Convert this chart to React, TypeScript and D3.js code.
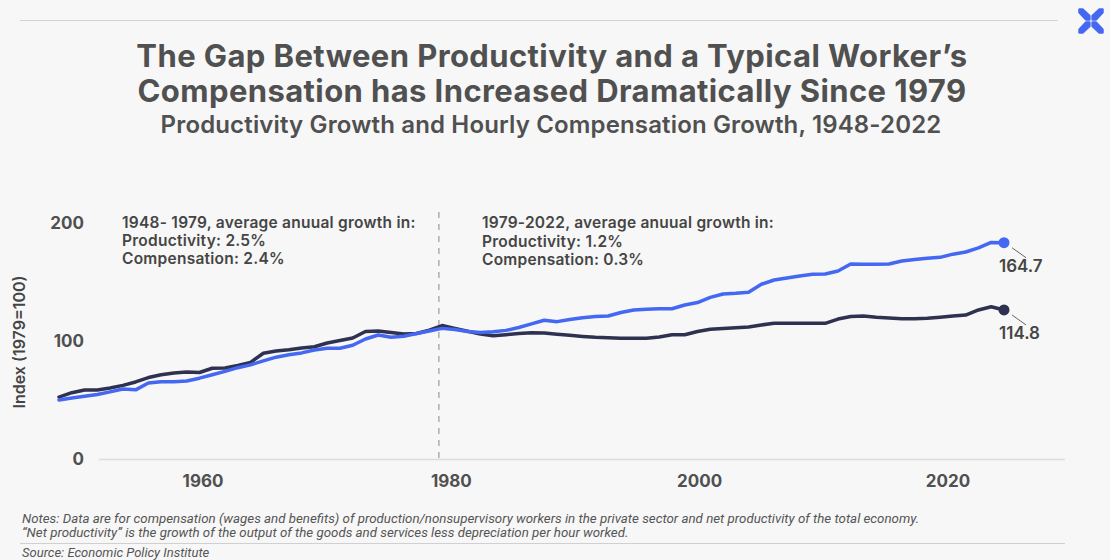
import React from "react";
import * as d3 from "d3";

const YEARS: number[] = d3.range(1948, 2023);

const PRODUCTIVITY: number[] = [
  50.0, 51.7, 53.1, 54.7, 56.9, 59.3, 58.6, 64.4, 65.5, 65.5,
  66.1, 68.5, 71.4, 74.3, 77.4, 79.8, 83.1, 86.3, 88.4, 89.9,
  92.4, 93.8, 93.8, 96.4, 101.7, 105.1, 103.1, 104.0, 106.3, 108.5,
  110.7, 109.7, 108.1, 107.2, 107.9, 109.0, 111.4, 114.5, 117.6, 116.4,
  118.2, 119.7, 120.7, 121.2, 124.2, 126.3, 126.9, 127.4, 127.3, 130.5,
  132.6, 137.0, 139.8, 140.4, 141.4, 148.1, 151.7, 153.4, 155.1, 156.5,
  156.8, 159.3, 165.3, 165.0, 165.1, 165.3, 167.8, 169.0, 170.1, 170.9,
  173.6, 175.4, 178.9, 183.5, 183.3,
];

const COMPENSATION: number[] = [
  52.5, 56.2, 58.5, 58.5, 60.2, 62.4, 65.3, 69.0, 71.4, 72.9,
  73.7, 73.3, 76.9, 77.1, 79.2, 81.9, 89.6, 91.5, 92.6, 94.1,
  95.1, 98.3, 100.4, 102.5, 108.1, 108.5, 107.3, 105.9, 106.4, 109.1,
  113.1, 110.6, 108.3, 105.9, 104.4, 105.3, 106.4, 107.0, 106.8, 105.8,
  104.8, 103.9, 103.1, 102.7, 102.4, 102.3, 102.3, 103.4, 105.3, 105.3,
  108.1, 109.9, 110.6, 111.3, 111.9, 113.6, 115.0, 115.0, 115.0, 115.0,
  115.0, 118.6, 120.8, 121.2, 120.1, 119.5, 118.8, 118.9, 119.2, 120.1,
  121.2, 122.0, 126.3, 129.0, 126.3,
];

const END_LABELS = ["164.7", "114.8"];
const Y_TICKS = [0, 100, 200];
const X_TICKS = [1960, 1980, 2000, 2020];
const DIVIDER_YEAR = 1979;

const TITLE_LINES = [
  "The Gap Between Productivity and a Typical Worker\u2019s",
  "Compensation has Increased Dramatically Since 1979",
];
const SUBTITLE = "Productivity Growth and Hourly Compensation Growth, 1948-2022";
const Y_TITLE = "Index (1979=100)";
const ANNOT_LEFT = [
  "1948- 1979, average anuual growth in:",
  "Productivity: 2.5%",
  "Compensation: 2.4%",
];
const ANNOT_RIGHT = [
  "1979-2022, average anuual growth in:",
  "Productivity: 1.2%",
  "Compensation: 0.3%",
];
const NOTES = [
  "Notes: Data are for compensation (wages and benefits) of production/nonsupervisory workers in the private sector and net productivity of the total economy.",
  "\u201CNet productivity\u201D is the growth of the output of the goods and services less depreciation per hour worked.",
];
const SOURCE = "Source: Economic Policy Institute";

const BLUE = "#4468f2";
const DARK = "#2e3250";
const TEXT = "#505050";

export default function App() {
  const W = 1110;
  const H = 560;

  const xData = d3.scaleLinear().domain([1948, 2022]).range([59, 1004]);
  const xAxis = d3.scaleLinear().domain([1960, 2020]).range([203, 948]);
  const y = d3.scaleLinear().domain([0, 200]).range([459, 223]);

  const line = d3
    .line<number>()
    .x((_, i) => xData(YEARS[i]))
    .y((d) => y(d))
    .curve(d3.curveLinear);

  const last = YEARS.length - 1;
  const series = [
    { values: COMPENSATION, color: DARK, label: END_LABELS[1] },
    { values: PRODUCTIVITY, color: BLUE, label: END_LABELS[0] },
  ];

  const cx = 1091;
  const cy = 21;
  const petal = (sx: number, sy: number) => {
    const p = (dx: number, dy: number) => `${cx + sx * dx},${cy + sy * dy}`;
    return `M${p(1.6, 1.6)} L${p(1.6, 5)} L${p(8.5, 11.5)} L${p(11.5, 11.5)} L${p(11.5, 8.5)} L${p(5, 1.6)} Z`;
  };

  return (
    <svg
      width={W}
      height={H}
      style={{ position: "absolute", left: 0, top: 0, display: "block" }}
      fontFamily="Inter, 'Open Sans', sans-serif"
    >
      <rect x={0} y={0} width={W} height={H} fill="#f7f7f7" />

      {/* top rule and logo */}
      <line x1={20} x2={1058} y1={20.5} y2={20.5} stroke="#d4d4d4" strokeWidth={1} />
      {[
        [-1, -1],
        [1, -1],
        [-1, 1],
        [1, 1],
      ].map(([sx, sy], i) => (
        <path
          key={i}
          d={petal(sx, sy)}
          fill={BLUE}
          stroke={BLUE}
          strokeWidth={2.5}
          strokeLinejoin="round"
        />
      ))}

      {/* titles */}
      {TITLE_LINES.map((t, i) => (
        <text
          key={i}
          x={552}
          y={67 + i * 35}
          textAnchor="middle"
          fontSize={31}
          fontWeight={700}
          fill={TEXT}
          letterSpacing={0.4}
        >
          {t}
        </text>
      ))}
      <text x={551} y={133} textAnchor="middle" fontSize={24} fontWeight={600} fill={TEXT} letterSpacing={0.15}>
        {SUBTITLE}
      </text>

      {/* y axis */}
      {Y_TICKS.map((t) => (
        <text
          key={t}
          x={84}
          y={y(t)}
          dy="0.35em"
          textAnchor="end"
          fontSize={17}
          fontWeight={700}
          fill={TEXT}
        >
          {t}
        </text>
      ))}
      <text
        transform={`translate(19,342) rotate(-90)`}
        textAnchor="middle"
        dy="0.35em"
        fontSize={16}
        fontWeight={600}
        fill="#444"
      >
        {Y_TITLE}
      </text>

      {/* x axis */}
      <line x1={99} x2={1065} y1={y(0) + 0.5} y2={y(0) + 0.5} stroke="#dcdcdc" strokeWidth={1.5} />
      {X_TICKS.map((t) => (
        <text
          key={t}
          x={xAxis(t)}
          y={481}
          dy="0.35em"
          textAnchor="middle"
          fontSize={17}
          fontWeight={700}
          fill={TEXT}
        >
          {t}
        </text>
      ))}

      {/* divider */}
      <line
        x1={xAxis(DIVIDER_YEAR)}
        x2={xAxis(DIVIDER_YEAR)}
        y1={212}
        y2={y(0)}
        stroke="#8a8a8a"
        strokeWidth={1}
        strokeDasharray="6 6"
      />

      {/* annotations */}
      {ANNOT_LEFT.map((t, i) => (
        <text key={`l${i}`} x={122} y={223 + i * 18} dy="0.35em" fontSize={15.5} fontWeight={600} fill="#454545" letterSpacing={0.25}>
          {t}
        </text>
      ))}
      {ANNOT_RIGHT.map((t, i) => (
        <text key={`r${i}`} x={482} y={223 + i * 18.5} dy="0.35em" fontSize={15.5} fontWeight={600} fill="#454545" letterSpacing={0.25}>
          {t}
        </text>
      ))}

      {/* lines */}
      {series.map((s, i) => (
        <path
          key={i}
          d={line(s.values) || ""}
          fill="none"
          stroke={s.color}
          strokeWidth={3.5}
          strokeLinejoin="round"
          strokeLinecap="round"
        />
      ))}

      {/* end points and labels */}
      {series.map((s, i) => {
        const px = xData(YEARS[last]);
        const py = y(s.values[last]);
        return (
          <g key={`e${i}`}>
            <circle cx={px} cy={py} r={5.5} fill={s.color} />
            <line x1={px + 8} y1={py + 5} x2={px + 22} y2={py + 15} stroke="#666" strokeWidth={1} />
            <text x={px - 5} y={py + 23} dy="0.35em" fontSize={17} fontWeight={600} fill="#454545">
              {s.label}
            </text>
          </g>
        );
      })}

      {/* notes */}
      {NOTES.map((t, i) => (
        <text
          key={`n${i}`}
          x={22}
          y={518 + i * 14}
          dy="0.35em"
          fontSize={13.3}
          fontStyle="italic"
          fontFamily="Roboto, sans-serif"
          fill="#555"
        >
          {t}
        </text>
      ))}
      <line x1={20} x2={1065} y1={543.5} y2={543.5} stroke="#d0d0d0" strokeWidth={1} />
      <text x={22} y={552} dy="0.35em" fontSize={13} fontStyle="italic" fontFamily="Roboto, sans-serif" fill="#555">
        {SOURCE}
      </text>
    </svg>
  );
}
